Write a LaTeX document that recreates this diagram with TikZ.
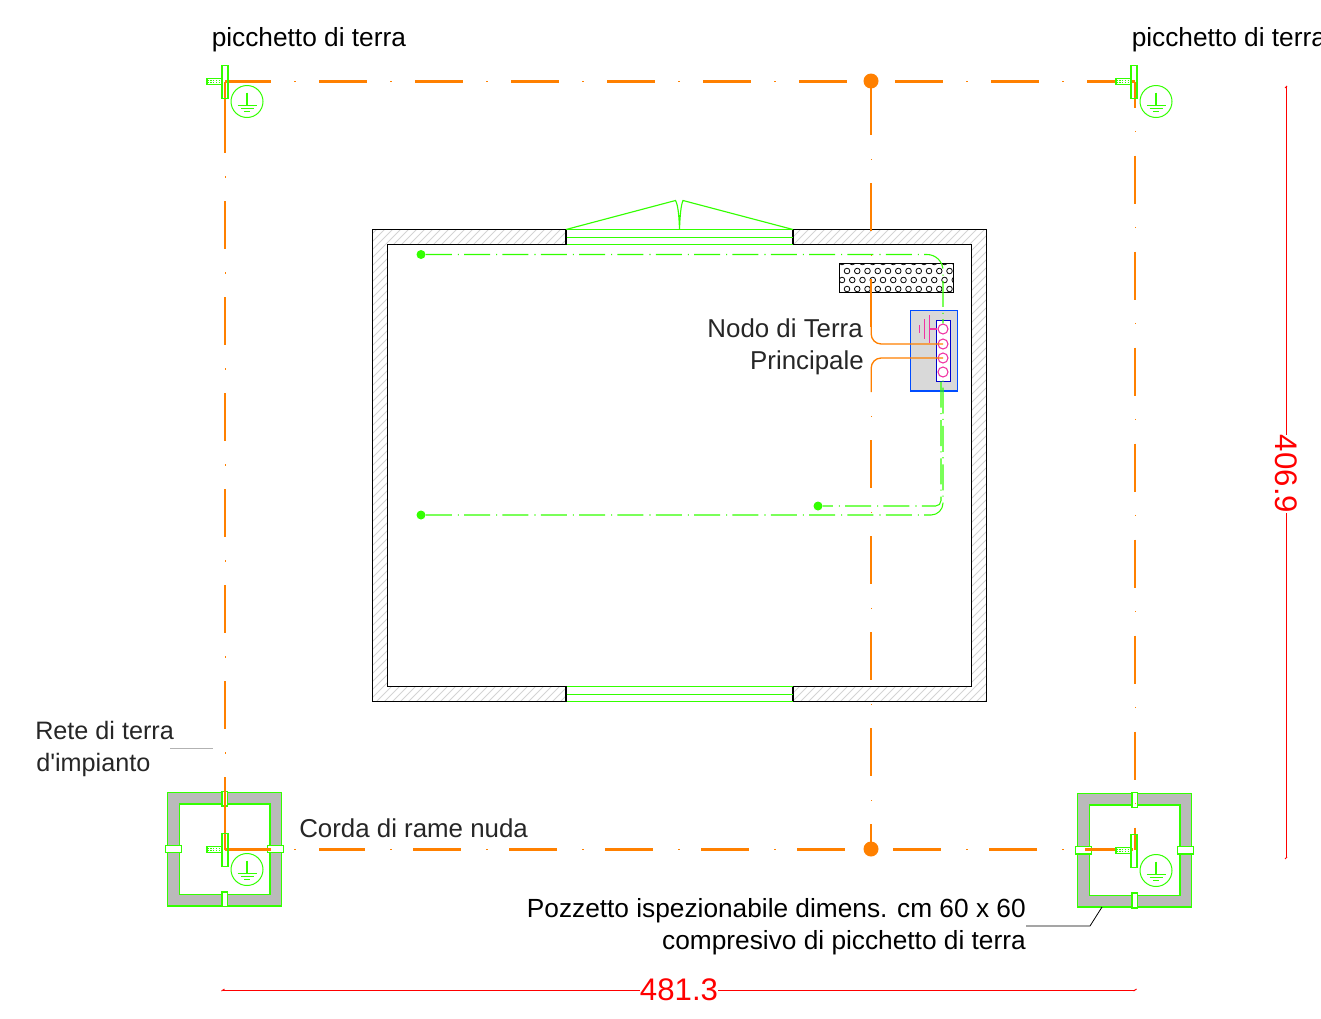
\documentclass[tikz,border=0pt]{standalone}
\usepackage{fontspec}
\setmainfont{Liberation Sans}
\usetikzlibrary{positioning,calc}
\definecolor{rame}{HTML}{FF8000}
\definecolor{verde}{HTML}{33FF00}
\definecolor{muro}{HTML}{D4D4D4}
\definecolor{fondo}{HTML}{BABABA}
\tikzset{
    lab/.style={inner sep=0pt, font=\fontsize{19.7pt}{23pt}\selectfont},
    lablight/.style={inner sep=0pt, text=black!85, font=\fontsize{19.4pt}{23pt}\selectfont},
    labrete/.style={inner sep=0pt, text=black!85, font=\fontsize{18.9pt}{23pt}\selectfont},
    dim/.style={inner sep=0pt, text=red, font=\fontsize{23.4pt}{28pt}\selectfont},
    corda/.style={draw=rame, line width=1.8pt, dash pattern=on 36pt off 36pt},
    puntini/.style={draw=rame, line width=.45pt, dash pattern=on .8pt off 71.2pt},
    filo/.style={draw=rame, line width=1.1pt},
    rete/.style={draw=verde, line width=.8pt, dash pattern=on 19.5pt off 4.5pt on .8pt off 3.95pt},
    nodocorda/.style={circle, fill=rame, inner sep=0pt, minimum size=11.25pt},
    puntorete/.style={circle, fill=verde, inner sep=0pt, minimum size=6.75pt},
    morsetto/.style={circle, draw=magenta!80!white, line width=.8pt, inner sep=0pt, minimum size=7.5pt},
    terra/.style={circle, draw=verde, line width=.75pt, inner sep=0pt, minimum size=24pt},
    verdefino/.style={draw=verde, line width=1.1pt},
    verdepozzo/.style={draw=verde, line width=1.1pt},
}
\newcommand{\picchetto}[3]{%
    \begin{scope}[shift={(#1,#2)}]
        \draw[verdefino, fill=white] (-18,-3) rectangle (-3,3);
        \draw[verde, line width=.5pt, dash pattern=on 1.2pt off 1pt] (-18,-1) -- (-3,-1) (-18,1) -- (-3,1);
        \draw[verdefino] (-3,-16) rectangle (3,17);
        \node[terra] (#3) at (22,20) {};
        \draw[verde, line width=.8pt] (22,11) -- (22,24) (12.5,24) -- (31.5,24) (15.5,26.7) -- (28.5,26.7) (19,30) -- (25,30);
    \end{scope}}
\newcommand{\pozzetto}[2]{%
    \begin{scope}[shift={(#1,#2)}]
        \draw[verdepozzo, fill=fondo] (0,0) rectangle (114,113.5);
        \draw[verdepozzo, fill=white] (11.6,11.6) rectangle (102.3,102);
        \foreach \x/\y in {57/6.5, 57/107} \draw[verdefino, fill=white] (\x-2.8,\y-7.3) rectangle (\x+2.8,\y+7.3);
        \foreach \x/\y in {6/56.8, 108/56.8} \draw[verdefino, fill=white] (\x-8,\y-3.6) rectangle (\x+8,\y+3.6);
    \end{scope}}

\begin{document}
\begin{tikzpicture}[x=.75pt, y=-.75pt]
    \useasboundingbox (0,0) rectangle (1321,1018);

    \coordinate (nw) at (225,81.5);
    \coordinate (ne) at (1135,81.5);
    \coordinate (sw) at (225,849.5);
    \coordinate (se) at (1135,849.5);

    \pozzetto{167.7}{792.3}
    \pozzetto{1077.7}{793.5}

    % muri
    \begin{scope}
        \clip (566,229.5) -- (372.5,229.5) -- (372.5,701.5) -- (566,701.5) -- (566,686.5) -- (387.5,686.5) -- (387.5,244.5) -- (566,244.5) -- cycle
              (793,229.5) -- (986.5,229.5) -- (986.5,701.5) -- (793,701.5) -- (793,686.5) -- (971.5,686.5) -- (971.5,244.5) -- (793,244.5) -- cycle;
        \foreach \k in {0,...,140}
            \draw[muro, line width=.6pt] (-120+\k*8,710) -- (-120+\k*8+500,210);
    \end{scope}
    \draw[black, line width=.8pt] (566,229.5) -- (372.5,229.5) -- (372.5,701.5) -- (566,701.5) -- (566,686.5) -- (387.5,686.5) -- (387.5,244.5) -- (566,244.5) -- cycle
              (793,229.5) -- (986.5,229.5) -- (986.5,701.5) -- (793,701.5) -- (793,686.5) -- (971.5,686.5) -- (971.5,244.5) -- (793,244.5) -- cycle;

    % porte
    \foreach \y in {229.5,237.5,244.5,686.5,694.5,701.5}
        \draw[verdefino] (566.5,\y) -- (792.5,\y);
    \draw[verdefino, line width=.85pt] (566,229.5) -- (675.5,200.5) .. controls (678,205) and (679,215) .. (679.5,229.5)
        .. controls (680,215) and (681,205) .. (683,200.5) -- (793,229.5);

    % barra forata
    \begin{scope}
        \clip (839,263) rectangle (953,292);
        \foreach \y/\s in {262/842,271/847,280/842,289/847}
            \foreach \k in {0,...,11}
                \node[circle, draw, line width=.6pt, inner sep=0pt, minimum size=4.2pt] (f\y\k) at (\s+\k*10.25,\y) {};
    \end{scope}
    \draw[black, line width=.7pt] (839.5,263.5) rectangle (953,292);

    % nodo di terra
    \draw[blue!70!cyan, line width=1pt, fill=black!15] (910.5,310.5) rectangle (957.5,391);
    \draw[blue!80!black, line width=.9pt, fill=white] (936.5,320.5) rectangle (950.5,381.5);
    \node[morsetto] (m1) at (943,329) {};
    \node[morsetto] (m2) at (943,344) {};
    \node[morsetto] (m3) at (943,358) {};
    \node[morsetto] (m4) at (943,372) {};
    \draw[magenta!80!white, line width=.8pt] (m1) -- (929.5,329) (929.5,315) -- (929.5,343) (924.5,319) -- (924.5,339) (919.5,325) -- (919.5,333);

    % rete interna
    \node[puntorete] (pA) at (421,254.5) {};
    \node[puntorete] (pB) at (421,515) {};
    \node[puntorete] (pC) at (818,506) {};
    \draw[rete, rounded corners=12pt] (pA) -| (m1);
    \draw[rete, rounded corners=9pt] (pB) -| (m4);
    \coordinate (g2) at (941,378);
    \draw[rete, dash phase=12pt, rounded corners=4pt] (pC) -| (g2);

    % corda perimetrale
    \draw[corda, dash phase=1.5pt] (nw) -- (ne);
    \draw[puntini, dash phase=19.9pt] (nw) -- (ne);
    \draw[corda, dash phase=1.5pt] (sw) -- (271,849.5) (319,849.5) -- (se);
    \draw[puntini, dash phase=19.9pt] (sw) -- (se);
    \draw[corda] (225,105) -- (225,825);
    \draw[puntini, dash phase=18.4pt] (225,105) -- (225,825);
    \draw[corda, dash pattern=] (nw) -- (225,153);
    \draw[corda, dash pattern=] (225,777) -- (sw);
    \draw[corda, dash phase=16.5pt] (ne) -- (se);
    \draw[puntini, dash phase=34.9pt] (ne) -- (se);

    % derivazioni
    \foreach \y in {87,183,279,440,536,632,728}
        \draw[filo] (871.2,\y) -- (871.2,\y+48);
    \foreach \y in {159,255,416,512,608,704,800}
        \draw[filo, line width=.5pt] (871.2,\y) -- (871.2,\y+1);
    \draw[filo] (871.2,824) -- (871.2,849);
    \draw[filo, line width=1pt, rounded corners=7.5pt] (871.2,327) -- (871.2,344) -- (m2.center);
    \draw[filo, line width=1pt, rounded corners=7.5pt] (m3.center) -- (871.2,358) -- (871.2,392);

    \picchetto{225}{81.5}{tNW}
    \picchetto{1134}{81.5}{tNE}
    \picchetto{225}{849.5}{tSW}
    \picchetto{1134}{850.5}{tSE}

    % testi
    \node[lab, anchor=base west] (pic1) at (211.5,46) {picchetto di terra};
    \node[lab, anchor=base west] (pic2) at (1131.5,46) {picchetto di terra};
    \node[lablight, anchor=base east] (nodo1) at (863,337) {Nodo di Terra};
    \node[lablight, anchor=base east] (nodo2) at (864,369) {Principale};
    \node[labrete, anchor=base west] (rete1) at (35,739) {Rete di terra};
    \node[labrete, anchor=base west] (rete2) at (36,771) {d\textquotesingle impianto};
    \node[lablight, anchor=base west] (corda1) at (299,837) {Corda di rame nuda};
    \node[lab, anchor=base east] (poz1) at (1026,917) {Pozzetto ispezionabile dimens. cm 60 x 60};
    \node[lab, anchor=base east] (poz2) at (1026,949) {compresivo di picchetto di terra};
    \draw[black!30, line width=.4pt] (170,748) -- (213,748);
    \draw[black, line width=.6pt] (1026,926) -- (1090,926) -- (1102,907);

    % quote
    \coordinate (qA) at (223,990);
    \coordinate (qB) at (1135,990);
    \coordinate (qC) at (1286,87);
    \coordinate (qD) at (1286,858);
    \draw[red, line width=.7pt] (qA) -- (qB) (qC) -- (qD);
    \draw[red, line width=.7pt] (221.5,991) -- (224.5,989) (1133.5,991) -- (1136.5,989) (1285,88) -- (1287,86) (1285,859) -- (1287,857);
    \node[dim, fill=white] (q1) at (679,990) {481.3};
    \node[dim, fill=white, rotate=-90] (q2) at (1286,474) {406.9};

    \node[nodocorda] (nN) at (871,81) {};
    \node[nodocorda] (nS) at (871,849) {};
\end{tikzpicture}
\end{document}
